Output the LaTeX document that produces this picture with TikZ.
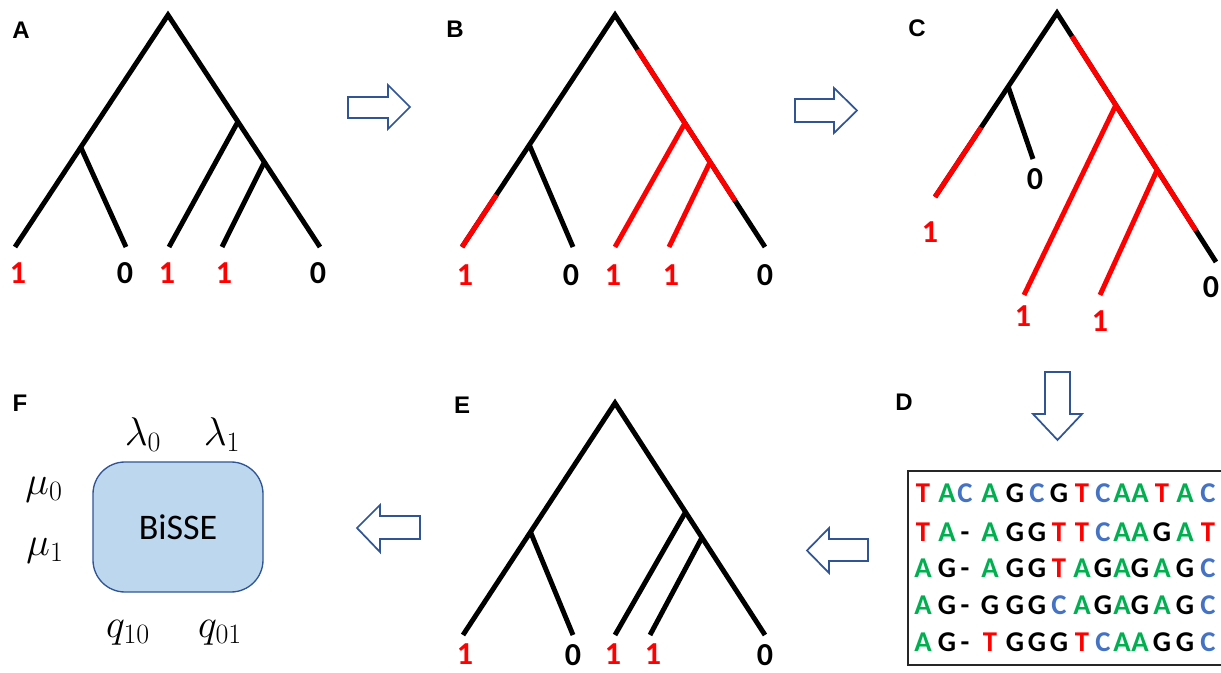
\RequirePackage{fix-cm}
\documentclass[tikz,border=0pt]{standalone}
\usepackage{fontspec}
\setmainfont{Carlito}
\newfontfamily\labfont{Liberation Sans}
\usetikzlibrary{calc}
\definecolor{nucA}{RGB}{0,176,80}
\definecolor{nucC}{RGB}{68,114,196}
\definecolor{nucG}{RGB}{0,0,0}
\definecolor{nucT}{RGB}{255,0,0}
\definecolor{nucx}{RGB}{0,0,0}
\definecolor{arrowblue}{RGB}{47,85,151}
\definecolor{boxfill}{RGB}{189,215,238}
\definecolor{boxline}{RGB}{47,85,151}
\definecolor{treered}{RGB}{255,0,0}
\tikzset{
  branch/.style={line width=3.7pt, line join=miter, draw=black},
  redbranch/.style={line width=3.7pt, line join=miter, draw=treered},
  tipone/.style={text=treered, font=\fontsize{24}{26}\selectfont\bfseries, inner sep=0pt},
  tipzero/.style={tipone, text=black},
  panel/.style={font=\labfont\bfseries\fontsize{18}{20}\selectfont, inner sep=0pt},
  blockarrow/.style={draw=arrowblue, line width=1.3pt, fill=white, line join=miter},
  nuc/.style={font=\fontsize{21.5}{22}\selectfont\bfseries, inner sep=0pt, anchor=base},
  ratelab/.style={font=\fontsize{30}{32}\selectfont, inner sep=0pt},
  bissebox/.style={draw=boxline, line width=1pt, fill=boxfill, rounded corners=24pt,
    minimum width=127.5pt, minimum height=97.5pt, inner sep=0pt,
    font=\fontsize{27}{29}\selectfont},
}
\begin{document}
\begin{tikzpicture}[x=0.75pt,y=-0.75pt]
\path[use as bounding box] (0,0) rectangle (1221,673);
\clip (0,0) rectangle (1221,673);

% ---------------- Panel A ----------------
\node[panel] (labA) at (21,30) {A};
\coordinate (Art) at (168,15);
\coordinate (Al1) at (15,247);
\coordinate (Al2) at (126,247);
\coordinate (Al3) at (169,247);
\coordinate (Al4) at (222,247);
\coordinate (Al5) at (320,247);
\coordinate (An1) at ($(Art)!0.57!(Al1)$);
\coordinate (An2) at ($(Art)!0.46!(Al5)$);
\coordinate (An3) at ($(Art)!0.634!(Al5)$);
\draw[branch] (Al1) -- (Art) -- (Al5);
\draw[branch] (An1) -- (Al2);
\draw[branch] (An2) -- (Al3);
\draw[branch] (An3) -- (Al4);
\node[tipone] (At1) at (18,273) {1};
\node[tipzero] (At2) at (125,273) {0};
\node[tipone] (At3) at (167,273) {1};
\node[tipone] (At4) at (224,273) {1};
\node[tipzero] (At5) at (318,273) {0};

% ---------------- Panel B ----------------
\node[panel] (labB) at (455,29) {B};
\coordinate (Brt) at (615,15);
\coordinate (Bl1) at (462,247);
\coordinate (Bl2) at (573,247);
\coordinate (Bl3) at (615,247);
\coordinate (Bl4) at (669,247);
\coordinate (Bl5) at (765,247);
\coordinate (Bn1) at ($(Brt)!0.56!(Bl1)$);
\coordinate (Bn2) at ($(Brt)!0.466!(Bl5)$);
\coordinate (Bn3) at ($(Brt)!0.634!(Bl5)$);
\coordinate (Bra) at ($(Brt)!0.15!(Bl5)$);
\coordinate (Brb) at ($(Brt)!0.80!(Bl5)$);
\coordinate (Brc) at ($(Bn1)!0.49!(Bl1)$);
\draw[branch] (Bl1) -- (Brt) -- (Bl5);
\draw[branch] (Bn1) -- (Bl2);
\draw[redbranch] (Bra) -- (Brb);
\draw[redbranch] (Brc) -- (Bl1);
\draw[redbranch] (Bn2) -- (Bl3);
\draw[redbranch] (Bn3) -- (Bl4);
\node[tipone] (Bt1) at (465,275) {1};
\node[tipzero] (Bt2) at (571,275) {0};
\node[tipone] (Bt3) at (613,275) {1};
\node[tipone] (Bt4) at (671,275) {1};
\node[tipzero] (Bt5) at (765,275) {0};

% ---------------- Panel C ----------------
\node[panel] (labC) at (917,28) {C};
\coordinate (Crt) at (1057,13);
\coordinate (Cl1) at (935,197);
\coordinate (Cl2) at (1033,159);
\coordinate (Cl3) at (1024,295);
\coordinate (Cl4) at (1100,295);
\coordinate (Cl5) at (1216,262);
\coordinate (Cn1) at ($(Crt)!0.40!(Cl1)$);
\coordinate (Cn2) at ($(Crt)!0.37!(Cl5)$);
\coordinate (Cn3) at ($(Crt)!0.63!(Cl5)$);
\coordinate (Cra) at ($(Crt)!0.094!(Cl5)$);
\coordinate (Crb) at ($(Crt)!0.874!(Cl5)$);
\coordinate (Crc) at ($(Cn1)!0.37!(Cl1)$);
\draw[branch] (Cl1) -- (Crt) -- (Cl5);
\draw[branch] (Cn1) -- (Cl2);
\draw[redbranch] (Cra) -- (Crb);
\draw[redbranch] (Crc) -- (Cl1);
\draw[redbranch] (Cn2) -- (Cl3);
\draw[redbranch] (Cn3) -- (Cl4);
\node[tipone] (Ct1) at (930,232) {1};
\node[tipzero] (Ct2) at (1035,179) {0};
\node[tipone] (Ct3) at (1023,316) {1};
\node[tipone] (Ct4) at (1100,321) {1};
\node[tipzero] (Ct5) at (1211,287) {0};

% ---------------- Panel D ----------------
\node[panel] (labD) at (904,402) {D};
\draw[line width=1.5pt, draw=black!85] (908,471) rectangle (1232,665);
\def\colx{{923,947,965,990,1015,1037,1059,1082,1103,1122,1140,1162,1185,1208}}
\foreach \yy/\seq [count=\r] in {
  493/{T,A,C,A,G,C,G,T,C,A,A,T,A,C},
  532/{T,A,x,A,G,G,T,T,C,A,A,G,A,T},
  568/{A,G,x,A,G,G,T,A,G,A,G,A,G,C},
  605/{A,G,x,G,G,G,C,A,G,A,G,A,G,C},
  642/{A,G,x,T,G,G,G,T,C,A,A,G,G,C}} {
  \foreach \l [count=\i] in \seq {
    \pgfmathsetmacro\xx{\colx[\i-1]}
    \node[nuc, text=nuc\l] (s\r-\i) at (\xx,\yy+9) {\if x\l -\else\l\fi};
  }
}

% ---------------- Panel E ----------------
\node[panel] (labE) at (462,405) {E};
\coordinate (Ert) at (615,403);
\coordinate (El1) at (463,635);
\coordinate (El2) at (573,635);
\coordinate (El3) at (615,635);
\coordinate (El4) at (650,635);
\coordinate (El5) at (765,635);
\coordinate (En1) at ($(Ert)!0.556!(El1)$);
\coordinate (En2) at ($(Ert)!0.47!(El5)$);
\coordinate (En3) at ($(Ert)!0.58!(El5)$);
\draw[branch] (El1) -- (Ert) -- (El5);
\draw[branch] (En1) -- (El2);
\draw[branch] (En2) -- (El3);
\draw[branch] (En3) -- (El4);
\node[tipone] (Et1) at (465,654) {1};
\node[tipzero] (Et2) at (573,655) {0};
\node[tipone] (Et3) at (613,654) {1};
\node[tipone] (Et4) at (653,654) {1};
\node[tipzero] (Et5) at (765,655) {0};

% ---------------- Panel F ----------------
\node[panel] (labF) at (20,403) {F};
\node[bissebox] (bisse) at (178,527) {BiSSE};
\node[ratelab] (lam0) at (143,435) {$\lambda_0$};
\node[ratelab] (lam1) at (222,435) {$\lambda_1$};
\node[ratelab] (mu0) at (44,490) {$\mu_0$};
\node[ratelab] (mu1) at (45,551) {$\mu_1$};
\node[ratelab] (q10) at (128,633) {$q_{10}$};
\node[ratelab] (q01) at (220,633) {$q_{01}$};

% ---------------- Block arrows ----------------
\draw[blockarrow] (348,97) -- (388,97) -- (388,85) -- (410,107) -- (388,129) -- (388,118) -- (348,118) -- cycle;
\draw[blockarrow] (795,99) -- (834,99) -- (834,88) -- (857,110.5) -- (834,133) -- (834,122) -- (795,122) -- cycle;
\draw[blockarrow] (1045,372) -- (1070,372) -- (1070,414) -- (1082,414) -- (1057.5,440) -- (1033,414) -- (1045,414) -- cycle;
\draw[blockarrow] (868,539) -- (829,539) -- (829,528) -- (807,550.5) -- (829,573) -- (829,561) -- (868,561) -- cycle;
\draw[blockarrow] (420,516) -- (380,516) -- (380,505) -- (357,528) -- (380,552) -- (380,539) -- (420,539) -- cycle;
\end{tikzpicture}
\end{document}
